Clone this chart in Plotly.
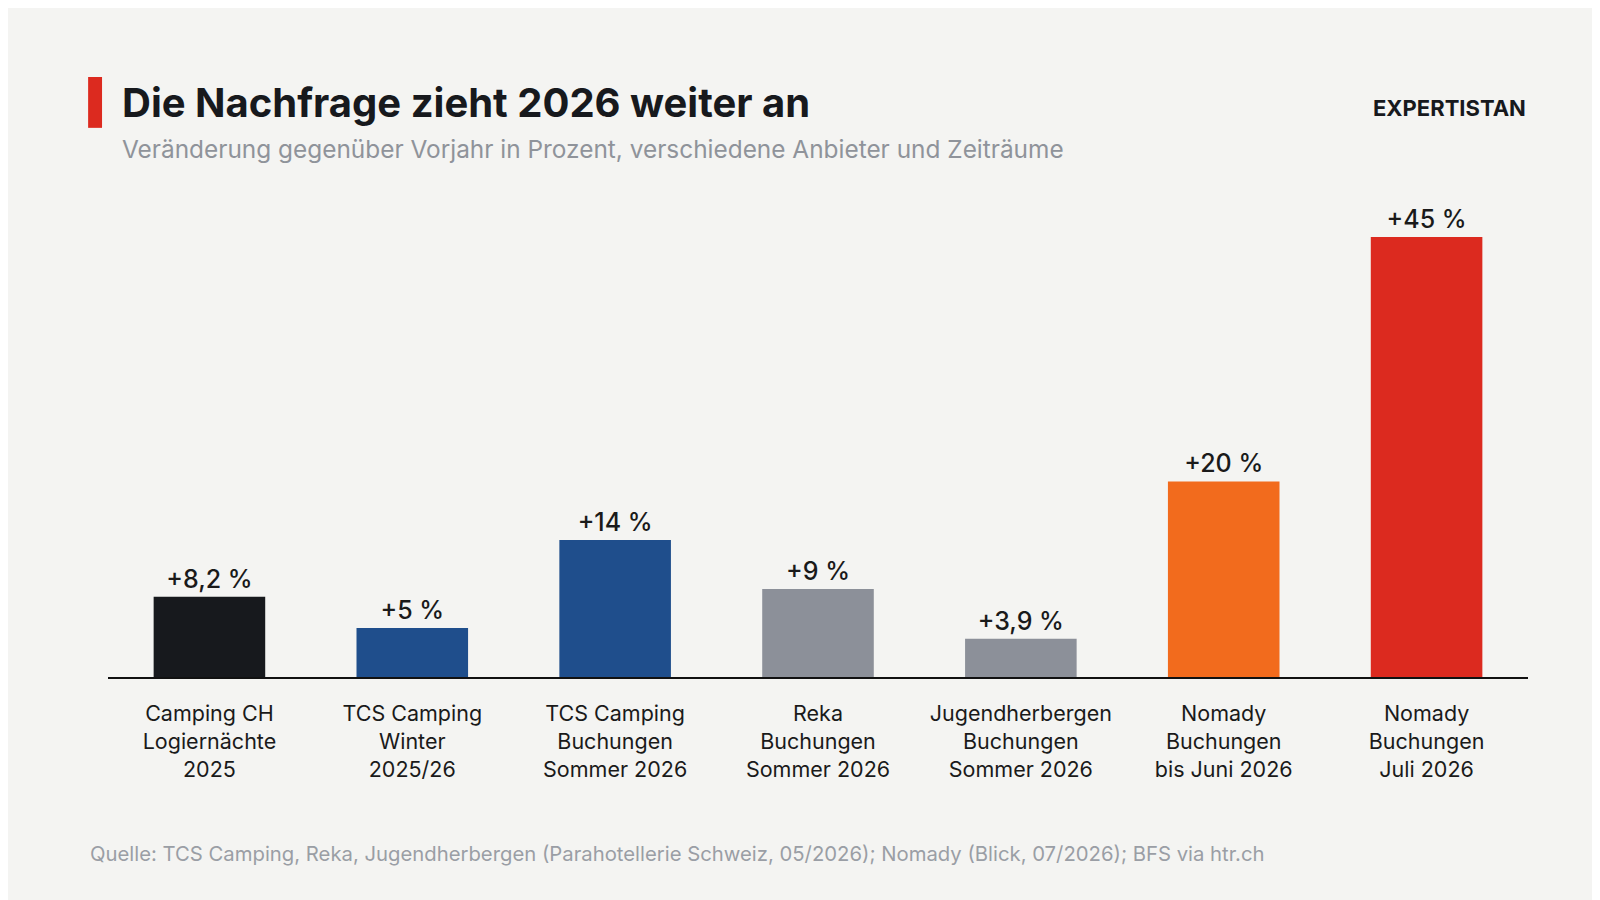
import plotly.graph_objects as go

categories = ["Camping CH<br>Logiernächte<br>2025", "TCS Camping<br>Winter<br>2025/26",
              "TCS Camping<br>Buchungen<br>Sommer 2026", "Reka<br>Buchungen<br>Sommer 2026",
              "Jugendherbergen<br>Buchungen<br>Sommer 2026", "Nomady<br>Buchungen<br>bis Juni 2026",
              "Nomady<br>Buchungen<br>Juli 2026"]
values = [8.2, 5, 14, 9, 3.9, 20, 45]
labels = ["+8,2 %", "+5 %", "+14 %", "+9 %", "+3,9 %", "+20 %", "+45 %"]
colors = ["#17191d", "#1f4e8c", "#1f4e8c", "#8c9099", "#8c9099", "#f26b1d", "#dc2a1f"]

F = "Inter, Noto Sans, sans-serif"
fig = go.Figure(go.Bar(x=categories, y=values, marker_color=colors, marker_line_width=0,
                       text=labels, textposition="outside", cliponaxis=False,
                       textfont=dict(size=25, color="#1a1a1a", family=F, weight=500)))
fig.update_layout(
    width=1600, height=900, paper_bgcolor="#f4f4f2", plot_bgcolor="#f4f4f2",
    margin=dict(l=100, r=80, t=180, b=231), bargap=0.45, showlegend=False,
    font=dict(family=F),
    xaxis=dict(showline=True, linecolor="#111", linewidth=2, tickfont=dict(size=21.5, color="#1a1a1a"),
               ticks="", showgrid=False, ticklabelstandoff=16),
    yaxis=dict(range=[0, 50], visible=False, showgrid=False, zeroline=False),
    shapes=[dict(type="rect", xref="paper", yref="paper", x0=-0.014, x1=-0.0042, y0=1.123, y1=1.227,
                 fillcolor="#dc2a1f", line_width=0)],
    annotations=[
        dict(text="<b>Die Nachfrage zieht 2026 weiter an</b>", xref="paper", yref="paper", x=0.0085, y=1.174,
             xanchor="left", yanchor="middle", showarrow=False, font=dict(size=40, color="#17191d")),
        dict(text="Veränderung gegenüber Vorjahr in Prozent, verschiedene Anbieter und Zeiträume", xref="paper",
             yref="paper", x=0.0085, y=1.080, xanchor="left", yanchor="middle", showarrow=False,
             font=dict(size=24.4, color="#8f939a")),
        dict(text="<b>EXPERTISTAN</b>", xref="paper", yref="paper", x=1.0, y=1.164, xanchor="right",
             yanchor="middle", showarrow=False, font=dict(size=22, color="#17191d")),
        dict(text="Quelle: TCS Camping, Reka, Jugendherbergen (Parahotellerie Schweiz, 05/2026); Nomady (Blick, 07/2026); BFS via htr.ch",
             xref="paper", yref="paper", x=-0.014, y=-0.36, xanchor="left", yanchor="middle", showarrow=False,
             font=dict(size=20.3, color="#9a9ea5")),
    ])
fig.write_html("out.html")
